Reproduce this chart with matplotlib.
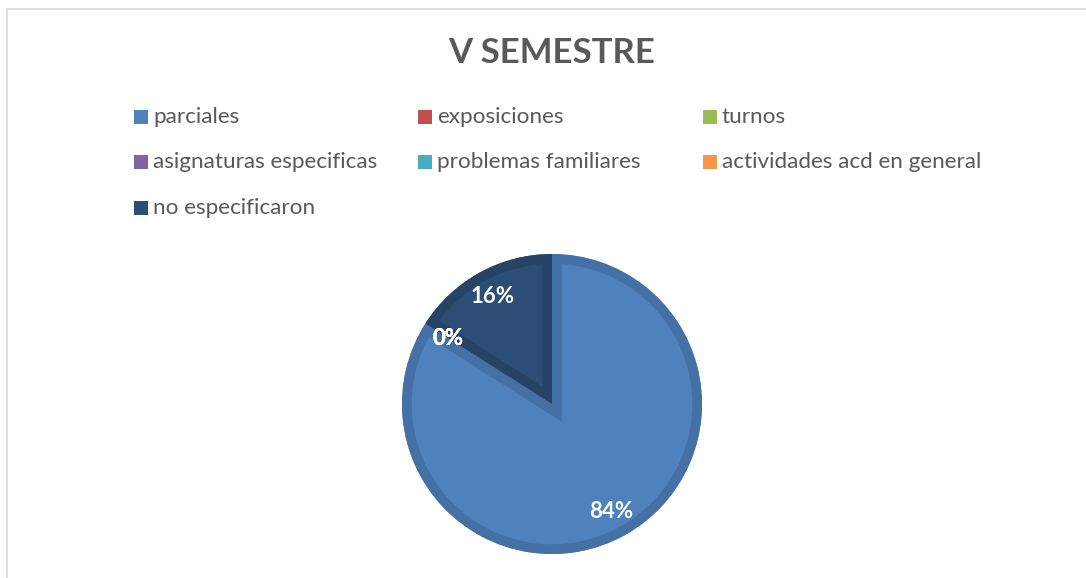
import matplotlib
matplotlib.use('Agg')
import matplotlib.pyplot as plt
from matplotlib.patches import Rectangle, Wedge

# data
labels = ['parciales', 'exposiciones', 'turnos', 'asignaturas especificas',
          'problemas familiares', 'actividades acd en general', 'no especificaron']
values = [84, 0, 0, 0, 0, 0, 16]
colors = ['#4F81BD', '#C0504D', '#9BBB59', '#8064A2', '#4BACC6', '#F79646', '#2C4D75']
edges = ['#4470A6', '#A84441', '#87A34D', '#6F578D', '#4196AD', '#D8833D', '#264366']

W, H = 1086, 578
fig = plt.figure(figsize=(W / 100, H / 100), dpi=100)
plt.rcParams['font.family'] = ['Lato', 'DejaVu Sans']

# chart frame
fig.patches.append(Rectangle((7 / W, -0.05), 1.2, 1 - 9 / H + 0.05, transform=fig.transFigure,
                             fill=False, edgecolor='#D9D9D9', linewidth=1.2))

fig.text(552 / W, 1 - 53 / H, 'V SEMESTRE', ha='center', va='center',
         fontsize=25, fontweight='bold', color='#595959')

# pie
cx, cy, r = 552, 404, 150
ax = fig.add_axes([(cx - r) / W, (H - cy - r) / H, 2 * r / W, 2 * r / H])
wedges, texts, autotexts = ax.pie(values, colors=colors, startangle=90, counterclock=False,
                                  autopct='%1.0f%%', pctdistance=0.82, radius=1,
                                  wedgeprops=dict(linewidth=0))
# darker inner band along each slice outline
for w, ec in zip(wedges, edges):
    band = Wedge(w.center, w.r, w.theta1, w.theta2, facecolor='none',
                 edgecolor=ec, linewidth=14, zorder=w.get_zorder() + 0.1)
    ax.add_patch(band)
    band.set_clip_path(w.get_path(), w.get_transform())
for t in autotexts:
    t.set_color('white')
    t.set_fontsize(16)
    t.set_fontweight('bold')
    t.set_zorder(5)
ax.set_xlim(-1, 1)
ax.set_ylim(-1, 1)
ax.set_aspect('equal')
ax.axis('off')

# legend (row-wise like the original)
col_x = [134, 418, 703]
row_y = [117, 162, 208]
for i, (lab, col) in enumerate(zip(labels, colors)):
    x = col_x[i % 3]
    y = row_y[i // 3]
    fig.patches.append(Rectangle((x / W, (H - y - 7) / H), 14 / W, 14 / H,
                                 transform=fig.transFigure, facecolor=col, edgecolor='none'))
    fig.text((x + 19) / W, (H - y) / H, lab, ha='left', va='center',
             fontsize=16.2, color='#595959')

fig.savefig('out.png', dpi=100)
